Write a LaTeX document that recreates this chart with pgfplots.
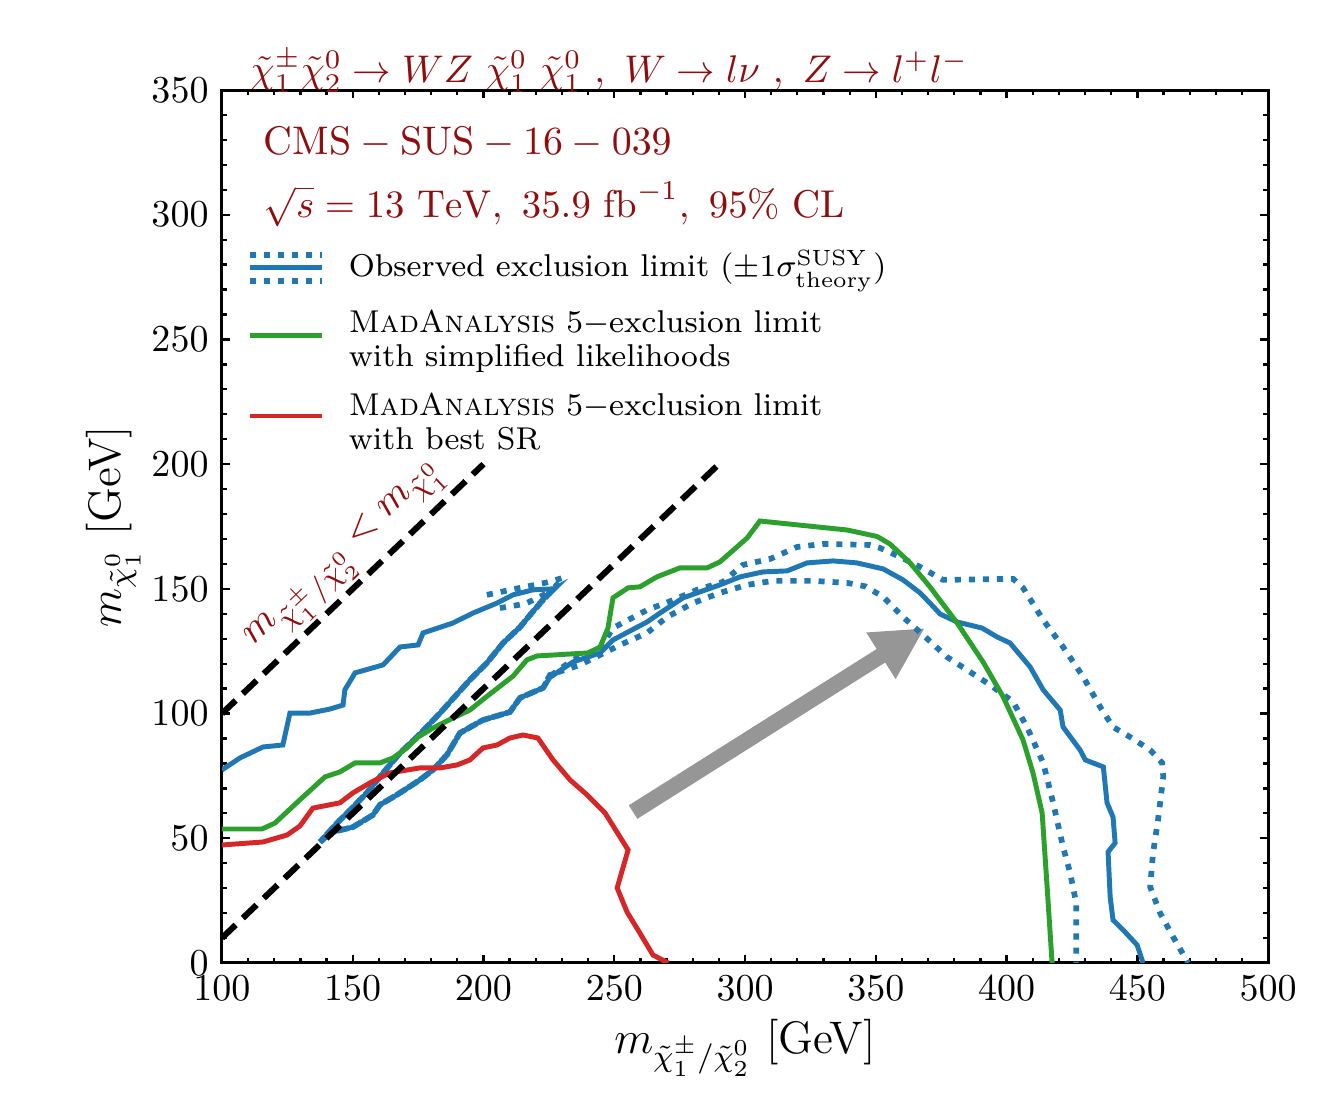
\RequirePackage{fix-cm}
\documentclass[border=0pt]{standalone}
\usepackage{fontspec}
\usepackage{pgfplots}
\pgfplotsset{compat=1.18}
\usetikzlibrary{arrows.meta}
\definecolor{cblue}{HTML}{1F77B4}
\definecolor{cgreen}{HTML}{2CA02C}
\definecolor{cred}{HTML}{D62728}
\definecolor{dred}{RGB}{145,12,12}
\definecolor{cgray}{RGB}{150,150,150}
\begin{document}
\begin{tikzpicture}
\begin{axis}[
  name=ax,
  scale only axis,
  width=275.3pt, height=229.7pt,
  xmin=100, xmax=500, ymin=0, ymax=350,
  xtick={100,150,...,500}, ytick={0,50,...,350},
  minor tick num=4,
  tick align=inside,
  xtick pos=both, ytick pos=both,
  xticklabel pos=lower, yticklabel pos=left,
  major tick length=2.2pt, minor tick length=1.3pt,
  every tick/.style={black, line width=0.6pt},
  axis line style={line width=0.8pt},
  tick label style={font=\fontsize{10}{12}\selectfont},
  label style={font=\fontsize{12}{14}\selectfont},
  xlabel={$m_{\tilde{\chi}_1^{\pm}/\tilde{\chi}_2^0}$ [GeV]},
  ylabel={$m_{\tilde{\chi}_1^0}$ [GeV]},
  xlabel style={yshift=2pt},
  ylabel style={yshift=-4pt},
  clip mode=individual,
]
% gray arrow
\draw[cgray, line width=4.2pt, -{Triangle[length=13.7pt,width=13.4pt]}] (axis cs:257.2,60.5) -- (axis cs:368.8,134.3);

% observed +1 sigma (dotted)
\addplot[cblue, line width=1.5pt, dash pattern=on 1.6pt off 2.1pt] coordinates {
(201.3,147.6)(214,150.4)(223.5,152.4)(230.4,154.4)
(225,148)(219,141)(214,134.7)(207.5,128.3)(201.3,120.3)(194.8,113.5)(183.4,100.2)(174.6,90.6)(168.1,84.2)(161.6,76.2)(155.4,68.2)(149,61.3)(144,56.1)(137.5,48.5)
(142.4,52.5)(150.1,54.5)(157.7,59.3)(160.4,63.4)(166.9,67.4)(175.7,73.4)(180.7,77.4)(186,83.4)(191,92.2)(199.8,97.4)(210.1,100.6)(214,106.3)(222.8,110.3)(225.4,115)(234.2,121.5)(244.6,126)
(249.5,134.3)(262.5,141.5)(272.5,145.5)(281.6,149.6)(291.6,152.8)(299.2,159.6)(309.6,162)(319.9,166.8)(329.8,168)(347.8,167.6)(351.6,166.4)(359.3,162.8)(366.9,158.8)(375.7,153.6)(402.5,154)(406.3,150.4)(414,137.5)(421.6,126.7)(429.3,114.7)(435.8,102.6)(440.7,94.6)(447.2,90.6)(454.9,85.4)(459.5,80.2)(459.9,74.6)(457.9,57.3)(456,44.1)(454.9,30.5)(458.7,20)(463.7,10.4)(469.4,0)
};
% observed -1 sigma (dotted)
\addplot[cblue, line width=1.5pt, dash pattern=on 1.6pt off 2.1pt] coordinates {
(206.3,142.3)(215.9,144)(221.6,146.8)(226.6,149.6)
(221.6,144.3)(214,134.7)(207.5,128.3)(201.3,120.3)(194.8,113.5)(183.4,100.2)(174.6,90.6)(168.1,84.2)(161.6,76.2)(155.4,68.2)(149,61.3)(144,56.1)(137.5,48.5)
(142.4,52.5)(150.1,54.5)(157.7,59.3)(160.4,63.4)(166.9,67.4)(175.7,73.4)(180.7,77.4)(186,83.4)(191,92.2)(199.8,97.4)(210.1,100.6)(214,106.3)(222.8,110.3)(225.4,115.5)
(236.9,119.5)(252.2,127.5)(262.5,132.3)(270.2,138.7)(280.1,144.3)(290.4,148.4)(300.8,151.6)(310.7,153.2)(326,153.2)(339,152.4)(346,151)(352.8,146.8)(360.4,138.7)(368.1,131.5)(377.2,122.7)(386,116.7)(393.7,111.5)(402.5,104.7)(407.8,94.6)(414,80.2)(417.8,64.2)(421.6,46.5)(424.3,36.1)(426.6,24.1)(426.6,0)
};
% observed (solid)
\addplot[cblue, line width=1.3pt] coordinates {
(100,77.4)(106.9,82.2)(115.7,86.6)(123.3,87.4)(126,100.2)(133.7,100.2)(141.3,101.8)(146.3,103.4)(147,109.5)(150.9,116.3)(161.6,119.5)(168.1,126.7)(175,127.5)(176.9,132.3)(188.3,136.3)(196,140.3)(205.2,144.3)(211.3,147.6)(218.9,149.6)(226.6,150)
(221.6,144.3)(214,134.7)(207.5,128.3)(201.3,120.3)(194.8,113.5)(183.4,100.2)(174.6,90.6)(168.1,84.2)(161.6,76.2)(155.4,68.2)(149,61.3)(144,56.1)(137.5,48.5)
(142.4,52.5)(150.1,54.5)(157.7,59.3)(160.4,63.4)(166.9,67.4)(175.7,73.4)(180.7,77.4)(186,83.4)(191,92.2)(199.8,97.4)(210.1,100.6)(214,106.3)(222.8,110.3)(225.4,114.5)(234.2,120.7)(244.6,124.3)
(249.5,129.5)(262.5,136.7)(267.5,140.3)(276.3,146.4)(290.4,151.6)(298.1,154.8)(306.9,156.8)(316.1,157.2)(323.7,160.4)(333.7,161.2)(342.8,160.4)(352.8,158)(360.4,153.6)(366.9,148.4)(370.7,144.3)(374.6,139.9)(381.1,136.7)(390.6,134.3)(396.4,130.7)(401.3,128.3)(409,118.7)(414,109.5)(420.5,101.4)(421.6,94.6)(428.1,85.4)(430.1,81.4)(437,78.6)(438.4,64.2)(440.7,58.5)(441.5,48.1)(438.8,44.5)(439.6,26.5)(440.7,17.2)(444.6,13.2)(449.9,7.2)(452.2,0)
};
% MA5 simplified likelihoods (green)
\addplot[cgreen, line width=1.3pt] coordinates {
(100,53.7)(115.3,53.7)(120.3,56.1)(129.8,65.4)(139.4,74.6)(145.1,76.6)(150.9,80.2)(160.4,80.2)(165.4,82.2)(170.7,86.2)(175,90.6)(180.7,94.2)(188.3,98.2)(194.8,101.4)(200.6,106.3)(205.5,110.3)(211.3,115)(216.6,121.5)(220.5,123.1)(240,124.3)(244.6,126.7)(247.6,134.3)(249.5,146.4)(255.3,150.4)(259.8,150.8)(266.3,154.8)(275.1,158.4)(285.5,158.4)(290.4,160.8)(300.8,170.4)(305.7,177.2)(339,173.6)(350.5,171)(355.4,168)(363.1,160.4)(370.7,150.8)(381.1,136.3)(391,120.7)(398.7,106.7)(406.3,89.4)(410.1,76.2)(413.6,60.1)(415.5,30.5)(417.4,0)
};
% MA5 best SR (red)
\addplot[cred, line width=1.3pt] coordinates {
(100,47.3)(115.7,48.5)(124.9,51.3)(129.8,54.9)(134.8,62.1)(145.1,64.2)(150.1,68.2)(156.6,72.2)(164.2,76.2)(175.7,78.2)(183.4,78.2)(189.9,79.4)(194.8,81.4)(199.8,86.2)(205.2,87.4)(210.1,90.2)(215.1,91.4)(220.8,90.2)(226.6,81.4)(233.1,73.4)(239.6,67.4)(246.5,60.1)(255.3,45.3)(251.1,30.1)(254.9,20.4)(259.1,13.2)(264.8,3.2)(270.6,0)
};
% kinematic lines
\addplot[black, line width=1.6pt, dash pattern=on 5pt off 2.6pt] coordinates {(100,100)(200,200)};
\addplot[black, line width=1.6pt, dash pattern=on 5pt off 2.6pt] coordinates {(100,10)(290,200)};

\node[dred, rotate=43.6, font=\fontsize{10.5}{12}\selectfont] at (axis cs:147.8,162.8)
  {$m_{\tilde{\chi}_1^{\pm}/\tilde{\chi}_2^0} < m_{\tilde{\chi}_1^0}$};

% texts
\node[dred, anchor=base west, inner sep=0pt, font=\fontsize{10.15}{12}\selectfont] at (axis cs:110.7,353)
  {$\tilde{\chi}_1^{\pm}\tilde{\chi}_2^0 \rightarrow WZ\ \tilde{\chi}_1^0\ \tilde{\chi}_1^0\ ,\ W\rightarrow l\nu\ ,\ Z\rightarrow l^{+}l^{-}$};
\node[dred, anchor=base west, inner sep=0pt, font=\fontsize{10.5}{12}\selectfont] at (axis cs:115.7,324)
  {$\mathrm{CMS}-\mathrm{SUS}-16-039$};
\node[dred, anchor=base west, inner sep=0pt, font=\fontsize{10.2}{12}\selectfont] at (axis cs:115.7,299)
  {$\sqrt{s}=13\ \mathrm{TeV},\ 35.9\ \mathrm{fb}^{-1},\ 95\%\ \mathrm{CL}$};

% legend
\draw[cblue, line width=1.5pt, dash pattern=on 1.6pt off 2.1pt] (axis cs:110.7,283.9) -- (axis cs:138.2,283.9);
\draw[cblue, line width=1.3pt] (axis cs:110.7,278.7) -- (axis cs:138.2,278.7);
\draw[cblue, line width=1.5pt, dash pattern=on 1.6pt off 2.1pt] (axis cs:110.7,273.5) -- (axis cs:138.2,273.5);
\node[anchor=west, inner sep=0pt, font=\fontsize{8.3}{8.7}\selectfont] at (axis cs:148.2,277.5)
  {Observed exclusion limit $(\pm1\sigma^{\mathrm{SUSY}}_{\mathrm{theory}})$};
\draw[cgreen, line width=1.3pt] (axis cs:110.7,251.4) -- (axis cs:138.2,251.4);
\node[anchor=west, inner sep=0pt, align=left, font=\fontsize{8.3}{8.8}\selectfont] at (axis cs:148.2,249.2)
  {\textsc{MadAnalysis} 5$-$exclusion limit\\with simplified likelihoods};
\draw[cred, line width=1.3pt] (axis cs:110.7,219.3) -- (axis cs:138.2,219.3);
\node[anchor=west, inner sep=0pt, align=left, font=\fontsize{8.3}{8.8}\selectfont] at (axis cs:148.2,217.1)
  {\textsc{MadAnalysis} 5$-$exclusion limit\\with best SR};
\end{axis}
\pgfresetboundingbox
\path[use as bounding box] (ax.south west) ++(-58.4pt,-39.5pt) rectangle ([xshift=19.7pt,yshift=23.7pt]ax.north east);
\end{tikzpicture}
\end{document}
